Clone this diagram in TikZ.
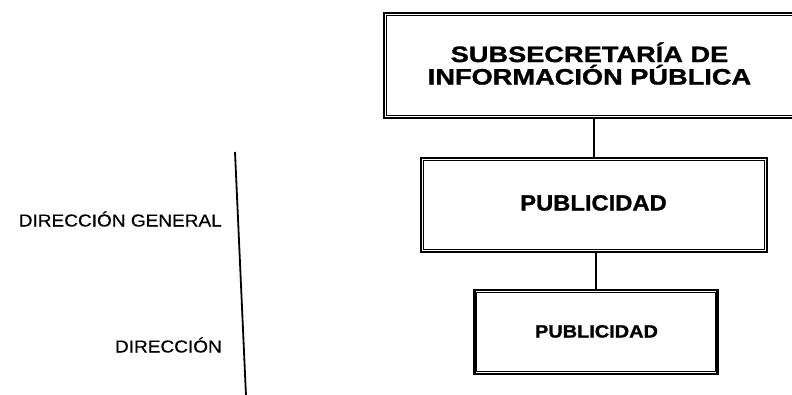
\documentclass[tikz,border=0pt]{standalone}
\usepackage{fontspec}
\setmainfont{Liberation Sans}
\newfontfamily\fTitle{Liberation Sans}[FakeStretch=1.22, BoldFeatures={FakeBold=1.3}]
\newfontfamily\fMid{Liberation Sans}[FakeStretch=1.08, BoldFeatures={FakeBold=1.3}]
\newfontfamily\fLow{Liberation Sans}[FakeStretch=1.12, BoldFeatures={FakeBold=1.3}]
\newfontfamily\fLbl{Liberation Sans}[FakeStretch=1.10, FakeBold=0.4]
\begin{document}
\begin{tikzpicture}[x=1pt,y=-1pt,
  box/.style={draw=black, line width=2.4pt, inner sep=0pt, fill=none},
  inbox/.style={draw=black, line width=1.1pt},
  conn/.style={draw=black, line width=2pt},
  lbl/.style={inner sep=0pt, anchor=base east, font=\fLbl\fontsize{17.3}{18}\selectfont},
  ttl/.style={inner sep=0pt, align=center, font=\fTitle\bfseries\fontsize{22.3}{22.5}\selectfont},
  mtx/.style={inner sep=0pt, anchor=base, font=\fMid\bfseries\fontsize{22}{22}\selectfont},
  btx/.style={inner sep=0pt, anchor=base, font=\fLow\bfseries\fontsize{17.8}{18}\selectfont}]
\clip (0,0) rectangle (792,394);
\fill[white] (0,0) rectangle (792,394);
% boxes
\node[box, minimum width=418pt, minimum height=105pt] (top) at (593,65.5) {};
\node[box, minimum width=346pt, minimum height=94pt] (mid) at (594,205) {};
\node[box, minimum width=243pt, minimum height=84pt] (low) at (596,332) {};
\foreach \n in {top,mid,low}
  \draw[inbox] ([shift={(3.6pt,-3.6pt)}]\n.north west) rectangle ([shift={(-3.6pt,3.6pt)}]\n.south east);
% texts
\node[ttl] (ttext) at (589.5,63.5) {SUBSECRETARÍA DE\\INFORMACIÓN PÚBLICA};
\node[mtx] (mtext) at (593.5,210.5) {PUBLICIDAD};
\node[btx] (btext) at (596.5,337.5) {PUBLICIDAD};
% connectors
\draw[conn] (mid.north) -- (mid.north |- top.south);
\draw[conn] (low.north) -- (low.north |- mid.south);
% left scale
\coordinate (vtop) at (235,152);
\coordinate (vbot) at (246,396);
\draw[line width=1.8pt] (vtop) -- (vbot);
\node[lbl] (dg) at (222,226.5) {DIRECCIÓN GENERAL};
\node[lbl] (dd) at (222,352.5) {DIRECCIÓN};
\end{tikzpicture}
\end{document}
